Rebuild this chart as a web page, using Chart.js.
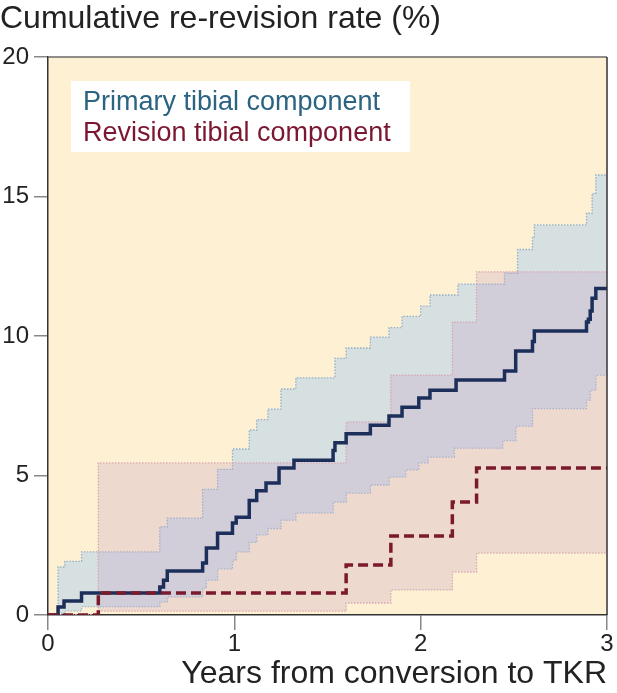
<!DOCTYPE html>
<html><head><meta charset="utf-8">
<script src="https://cdn.jsdelivr.net/npm/chart.js@4.4.1/dist/chart.umd.min.js"></script>
<style>html,body{margin:0;padding:0;background:#fff;overflow:hidden}</style>
</head><body>
<canvas id="c" width="617" height="693"></canvas>
<script>
// ---- data ----
const xTicks = [0, 1, 2, 3];
const yTicks = [0, 5, 10, 15, 20];
const titleText = 'Cumulative re-revision rate (%)';
const xTitleText = 'Years from conversion to TKR';
const legendLabels = ['Primary tibial component', 'Revision tibial component'];

const primaryX = [0,0.054,0.086,0.18,0.60,0.62,0.64,0.83,0.85,0.91,0.99,1.01,1.08,1.12,1.17,1.24,1.32,1.53,1.54,1.60,1.73,1.83,1.90,1.99,2.05,2.19,2.45,2.51,2.60,2.61,2.89,2.90,2.91,2.92,2.94,3.0];
const primaryY = [0,0.29,0.5,0.79,1.0,1.25,1.58,1.86,2.4,2.93,3.3,3.5,4.1,4.45,4.73,5.27,5.55,5.9,6.17,6.5,6.8,7.13,7.45,7.78,8.06,8.42,8.75,9.46,9.8,10.18,10.5,10.6,10.9,11.35,11.7,11.7];

const priUpperX = [0,0.054,0.09,0.18,0.60,0.64,0.83,0.91,0.99,1.08,1.12,1.18,1.25,1.33,1.54,1.60,1.73,1.83,1.90,2.00,2.05,2.20,2.45,2.52,2.60,2.61,2.89,2.92,2.94,3.0];
const priUpperY = [0,1.72,1.92,2.26,3.16,3.47,4.5,5.22,5.95,6.63,7.0,7.38,8.1,8.5,9.2,9.57,9.96,10.3,10.7,11.07,11.47,11.86,12.25,13.1,13.55,13.98,14.4,15.1,15.77,15.77];

const priLowerX = [0,0.054,0.09,0.18,0.60,0.64,0.83,0.85,0.91,0.99,1.01,1.08,1.12,1.18,1.25,1.33,1.53,1.60,1.73,1.83,1.92,1.99,2.04,2.18,2.44,2.51,2.60,2.89,2.91,2.94,3.0];
const priLowerY = [0,0.07,0.15,0.3,0.47,0.65,0.97,1.25,1.65,1.97,2.26,2.6,2.87,3.1,3.4,3.66,4.05,4.37,4.66,4.95,5.2,5.45,5.66,5.98,6.25,6.77,7.4,7.7,8.06,8.6,8.6];

const revisionX = [0,0.27,1.60,1.84,2.17,2.30,3.0];
const revisionY = [0,0.79,1.79,2.83,4.05,5.27,5.27];
const revUpperY = [0,5.45,6.92,8.6,10.5,12.3,12.3];
const revLowerY = [0,0.14,0.43,0.9,1.54,2.22,2.22];

// ---- helpers ----
const pts = (xs, ys) => xs.map((x, i) => ({x: x, y: ys[i]}));
const FONT = "'Liberation Sans', Arial, Helvetica, sans-serif";
const BG = '#FEF0D2';

const bgPlugin = {
  id: 'plotBg',
  beforeDraw(chart) {
    const {ctx, chartArea: a} = chart;
    ctx.save();
    ctx.fillStyle = BG;
    ctx.fillRect(a.left, a.top, a.right - a.left, a.bottom - a.top);
    ctx.restore();
  }
};
const framePlugin = {
  id: 'frame',
  afterDatasetsDraw(chart) {
    const {ctx, chartArea: a} = chart;
    ctx.save();
    ctx.strokeStyle = '#6a6a6a';
    ctx.lineWidth = 1.5;
    ctx.beginPath();
    ctx.moveTo(a.left, a.top); ctx.lineTo(a.right, a.top);
    ctx.stroke();
    ctx.strokeStyle = '#333';
    ctx.beginPath();
    ctx.moveTo(a.right, a.top); ctx.lineTo(a.right, a.bottom);
    ctx.stroke();
    // legend box
    ctx.fillStyle = '#ffffff';
    ctx.fillRect(71, 81, 339, 71);
    ctx.font = '27px ' + FONT;
    ctx.textBaseline = 'alphabetic';
    ctx.textAlign = 'left';
    ctx.fillStyle = '#2B6381';
    ctx.fillText(legendLabels[0], 83, 110);
    ctx.fillStyle = '#7B1730';
    ctx.fillText(legendLabels[1], 83, 141);
    ctx.restore();
  }
};

new Chart(document.getElementById('c'), {
  type: 'line',
  data: {
    datasets: [
      { label: 'Revision', data: pts(revisionX, revisionY), stepped: 'before',
        borderColor: '#7A1A2C', borderWidth: 3.5, borderDash: [10, 5], pointRadius: 0, fill: false },
      { label: 'Primary', data: pts(primaryX, primaryY), stepped: 'before',
        borderColor: '#1C2E5A', borderWidth: 3.5, pointRadius: 0, fill: false },
      { label: 'Rev upper', data: pts(revisionX, revUpperY), stepped: 'before',
        borderColor: 'rgba(214,160,175,0.9)', borderWidth: 1.3, borderDash: [1.5, 1.5], pointRadius: 0,
        fill: '+1', backgroundColor: 'rgba(200,165,200,0.30)' },
      { label: 'Rev lower', data: pts(revisionX, revLowerY), stepped: 'before',
        borderColor: 'rgba(214,160,175,0.9)', borderWidth: 1.3, borderDash: [1.5, 1.5], pointRadius: 0, fill: false },
      { label: 'Pri upper', data: pts(priUpperX, priUpperY), stepped: 'before',
        borderColor: 'rgba(140,172,200,0.95)', borderWidth: 1.3, borderDash: [1.5, 1.5], pointRadius: 0,
        fill: '+1', backgroundColor: 'rgba(175,208,240,0.5)' },
      { label: 'Pri lower', data: pts(priLowerX, priLowerY), stepped: 'before',
        borderColor: 'rgba(140,172,200,0.95)', borderWidth: 1.3, borderDash: [1.5, 1.5], pointRadius: 0, fill: false }
    ]
  },
  options: {
    responsive: false,
    devicePixelRatio: 1,
    animation: false,
    layout: { padding: { left: 0, right: 10, top: 0, bottom: 0 } },
    plugins: {
      legend: { display: false },
      tooltip: { enabled: false },
      title: {
        display: true, text: titleText, align: 'start', color: '#222',
        font: { family: FONT, size: 32, weight: 'normal', lineHeight: 1.2 },
        padding: { top: 0, bottom: 18.6 }
      }
    },
    scales: {
      x: {
        type: 'linear', min: 0, max: 3,
        afterBuildTicks: s => { s.ticks = xTicks.map(v => ({value: v})); },
        afterFit: s => { s.height = 78; },
        grid: { drawOnChartArea: false, drawTicks: true, tickLength: 15, color: '#888', lineWidth: 1.5 },
        border: { display: true, color: '#333', width: 1.5 },
        ticks: { color: '#222', font: { family: FONT, size: 24 }, padding: 0, maxRotation: 0 },
        title: { display: true, text: xTitleText, align: 'end', color: '#222',
          font: { family: FONT, size: 32, lineHeight: 1.2 }, padding: 0 }
      },
      y: {
        type: 'linear', min: 0, max: 20,
        afterBuildTicks: s => { s.ticks = yTicks.map(v => ({value: v})); },
        afterFit: s => { s.width = 48; },
        grid: { drawOnChartArea: false, drawTicks: true, tickLength: 14, color: '#888', lineWidth: 1.5 },
        border: { display: true, color: '#333', width: 1.5 },
        ticks: { color: '#222', font: { family: FONT, size: 24 }, padding: 5 }
      }
    }
  },
  plugins: [bgPlugin, framePlugin]
});
</script>
</body></html>
